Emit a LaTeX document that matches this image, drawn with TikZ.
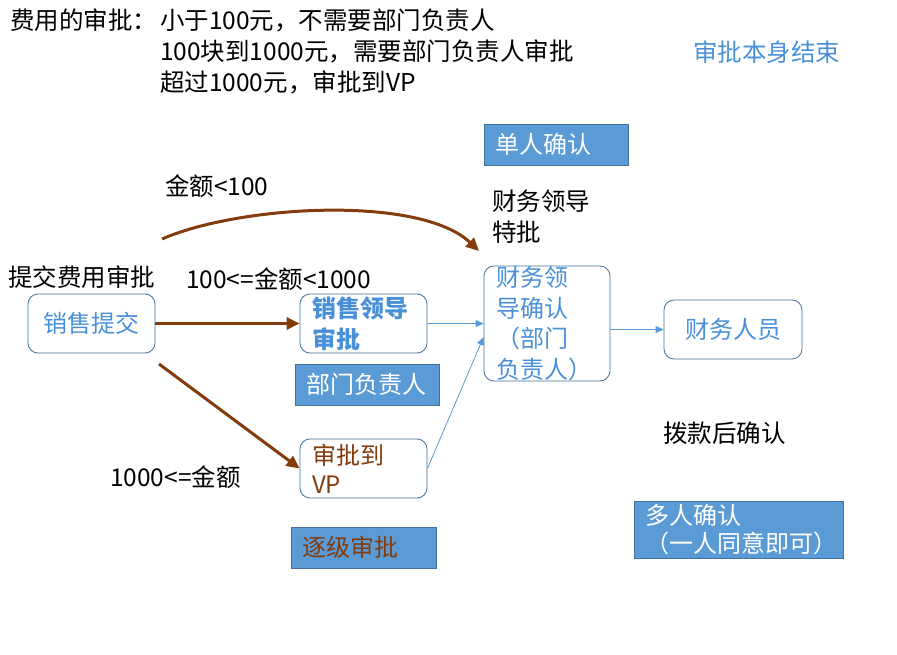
\documentclass[tikz,border=0pt]{standalone}
\usepackage{fontspec}
\setmainfont{Noto Sans CJK SC}
\usetikzlibrary{arrows.meta}
\definecolor{boxblue}{HTML}{5B9BD5}
\definecolor{edgeblue}{HTML}{41719C}
\definecolor{textblue}{HTML}{4A90D9}
\definecolor{rust}{HTML}{843C0C}
\begin{document}
\begin{tikzpicture}[x=1pt,y=-1pt]
\tikzstyle{txt} = [font=\fontsize{24.5}{31}\selectfont,inner sep=0pt,anchor=west,align=left]
\tikzstyle{flow} = [draw=edgeblue,rounded corners=10pt,line width=0.8pt,fill=white,text=textblue,font=\fontsize{24}{31}\selectfont,minimum height=59pt,inner ysep=0pt]
\tikzstyle{tag} = [draw=edgeblue,fill=boxblue,text=white,line width=0.8pt,font=\fontsize{24}{31}\selectfont,minimum height=41pt,inner ysep=0pt,inner xsep=11pt,align=left]
\tikzstyle{brownarrow} = [draw=rust,line width=3pt,-{Triangle[length=13pt,width=12pt]}]
\tikzstyle{bluearrow} = [draw=boxblue,line width=0.8pt,-{Triangle[length=8pt,width=7pt]}]
\useasboundingbox (0,0) rectangle (897,655);
% rules at the top
\node[txt] (ruletitle) at (10,20) {费用的审批：};
\node[txt] (rules) at (160,51) {小于100元，不需要部门负责人\\100块到1000元，需要部门负责人审批\\超过1000元，审批到VP};
\node[txt,text=textblue] (endnote) at (693,52) {审批本身结束};
% flow nodes
\node[flow,minimum width=127pt] (sale) at (91.5,323.5) {销售提交};
\node[flow,minimum width=127pt,text width=103pt,inner xsep=12pt,align=left,font=\fontsize{24}{31}\selectfont\bfseries] (lead) at (363.5,323.5) {销售领导\\审批};
\node[flow,minimum width=126pt,minimum height=115pt,text width=102pt,inner xsep=12pt,align=left,font=\fontsize{24}{30.5}\selectfont] (fin) at (547,323.5) {财务领\\导确认\\（部门\\负责人）};
\node[flow,minimum width=138pt] (staff) at (733,329.5) {财务人员};
\node[flow,minimum width=127pt,text width=103pt,inner xsep=12pt,align=left,text=rust,font=\fontsize{24}{29}\selectfont] (vp) at (363.5,468.5) {审批到\\VP};
% blue tags
\node[tag,text width=122pt] (single) at (556,144.5) {单人确认};
\node[tag,text width=122pt] (dept) at (367,384.5) {部门负责人};
\node[tag,text width=123pt,text=rust] (stepwise) at (363.5,547.5) {逐级审批};
\node[tag,text width=187pt,minimum height=57pt,font=\fontsize{24}{28}\selectfont] (multi) at (738.5,529.5) {多人确认\\（一人同意即可）};
% labels
\node[txt] (special) at (492,217) {财务领导\\特批};
\node[txt] (lowlabel) at (165,186) {金额<100};
\node[txt] (submit) at (8,277) {提交费用审批};
\node[txt] (midlabel) at (186,279) {100<=金额<1000};
\node[txt] (highlabel) at (110,477) {1000<=金额};
\node[txt] (paid) at (663,433) {拨款后确认};
% connectors
\coordinate (curvestart) at (162,239);
\coordinate (curveend) at (479,251);
\coordinate (diagstart) at (159,364);
\draw[brownarrow] (curvestart) .. controls (240,205) and (420,195) .. (curveend);
\draw[brownarrow] (sale.east) -- (lead.west);
\draw[brownarrow] (diagstart) -- (vp.west);
\draw[bluearrow] (lead.east) -- (fin.west);
\draw[bluearrow] (vp.east) -- (fin.192);
\draw[bluearrow] (fin.east |- staff.west) -- (staff.west);
\end{tikzpicture}
\end{document}
